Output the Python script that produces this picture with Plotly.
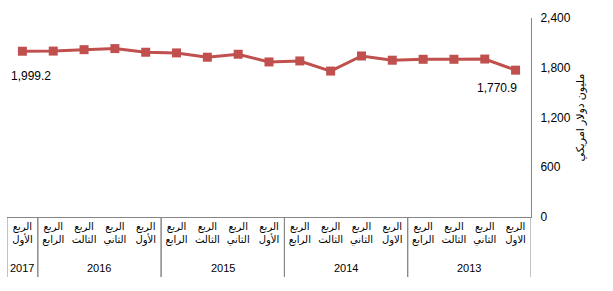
import plotly.graph_objects as go

# Data (chronological order: 2013 Q1 -> 2017 Q1)
years = ["2013"] * 4 + ["2014"] * 4 + ["2015"] * 4 + ["2016"] * 4 + ["2017"]
quarters = [
    "الربع<br>الاول", "الربع<br>الثاني", "الربع<br>الثالث", "الربع<br>الرابع",
    "الربع<br>الاول", "الربع<br>الثاني", "الربع<br>الثالث", "الربع<br>الرابع",
    "الربع<br>الأول", "الربع<br>الثاني", "الربع<br>الثالث", "الربع<br>الرابع",
    "الربع<br>الأول", "الربع<br>الثاني", "الربع<br>الثالث", "الربع<br>الرابع",
    "الربع<br>الأول",
]
values = [1770.9, 1905, 1902, 1902,
          1891, 1942, 1760, 1882,
          1870, 1963, 1927, 1979,
          1987, 2031, 2018, 2001,
          1999.2]
y_title = "مليون دولار امريكي"
y_ticks = [0, 600, 1200, 1800, 2400]

RED = "#C0504D"
GREY = "#868686"
FONT = "Liberation Sans, DejaVu Sans, sans-serif"

n = len(values)
pos = list(range(n))

fig = go.Figure()
fig.add_trace(go.Scatter(
    x=pos, y=values,
    mode="lines+markers",
    line=dict(color=RED, width=3),
    marker=dict(symbol="square", size=9, color=RED),
    showlegend=False,
    hoverinfo="skip",
))

# data labels for first (rightmost, 2013) and last (leftmost, 2017) point
label_shift = {0: (-19, -18), n - 1: (9, -25)}
for idx, (dx, dy) in label_shift.items():
    fig.add_annotation(
        x=pos[idx], y=values[idx], xref="x", yref="y",
        text=f"{values[idx]:,.1f}", showarrow=False,
        xshift=dx, yshift=dy,
        font=dict(size=12, color="#000000", family=FONT),
    )

# year groups: labels and dividers
groups = []
for i, yv in enumerate(years):
    if not groups or groups[-1][0] != yv:
        groups.append([yv, i, i])
    else:
        groups[-1][2] = i

TABLE_FRAC = 60 / 199
for yv, a, b in groups:
    fig.add_annotation(
        x=(pos[a] + pos[b]) / 2, y=0, xref="x", yref="paper",
        text=yv, showarrow=False, yanchor="middle", yshift=-51,
        font=dict(size=11, color="#000000", family=FONT),
    )
    for edge in (pos[a] - 0.5, pos[b] + 0.5):
        fig.add_shape(
            type="line", xref="x", yref="paper",
            x0=edge, x1=edge, y0=0, y1=-TABLE_FRAC,
            line=dict(color=GREY, width=1),
        )

fig.update_layout(
    width=613, height=291,
    margin=dict(l=7, r=82, t=18, b=74),
    plot_bgcolor="white", paper_bgcolor="white",
    font=dict(family=FONT, size=11, color="#000000"),
    xaxis=dict(
        range=[n - 0.5, -0.5],
        tickvals=pos, ticktext=quarters, tickangle=0,
        showline=True, linecolor=GREY, linewidth=1,
        ticks="", showgrid=False, zeroline=False,
        tickfont=dict(size=10, family=FONT),
    ),
    yaxis=dict(
        side="right", range=[0, 2400], tickvals=y_ticks,
        tickformat=",", showgrid=False, zeroline=False,
        showline=True, linecolor=GREY, linewidth=1,
        ticks="outside", ticklen=6, tickcolor="rgba(0,0,0,0)",
        tickfont=dict(size=12, family=FONT),
        title=dict(text=y_title, font=dict(size=11, family=FONT), standoff=6),
    ),
)

fig.write_html("out.html")
